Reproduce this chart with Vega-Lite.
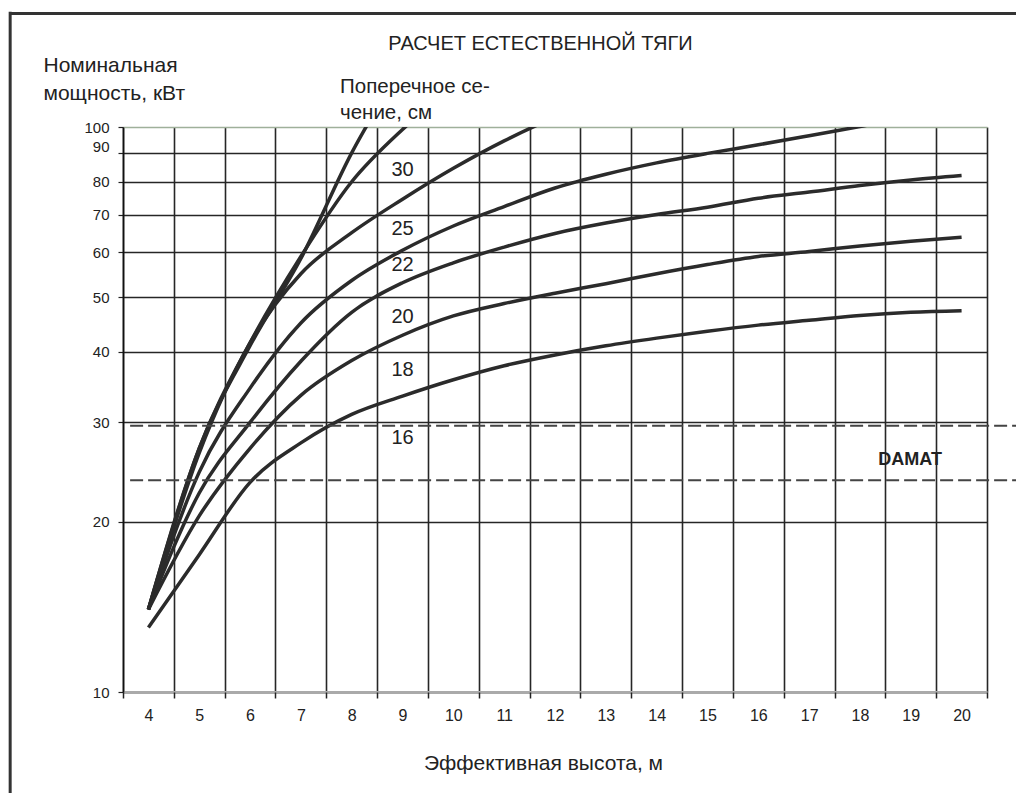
{
  "$schema": "https://vega.github.io/schema/vega-lite/v6.json",
  "width": 864,
  "height": 565,
  "autosize": {"type": "none"},
  "padding": {"left": 123, "top": 127, "right": 29, "bottom": 101},
  "background": "white",
  "config": {"view": {"stroke": null}, "font": "Liberation Sans"},
  "resolve": {"axis": {"x": "independent"}},
  "datasets": {
    "curves": [
      {"s": "k1", "h": 4, "p": 14}, {"s": "k1", "h": 5, "p": 27}, {"s": "k1", "h": 6, "p": 41}, {"s": "k1", "h": 7, "p": 58.5}, {"s": "k1", "h": 8, "p": 90}, {"s": "k1", "h": 9, "p": 128},
      {"s": "k2", "h": 4, "p": 14}, {"s": "k2", "h": 5, "p": 27}, {"s": "k2", "h": 6, "p": 41.5}, {"s": "k2", "h": 7, "p": 59}, {"s": "k2", "h": 8, "p": 80}, {"s": "k2", "h": 9, "p": 99}, {"s": "k2", "h": 10, "p": 118},
      {"s": "k3", "h": 4, "p": 14}, {"s": "k3", "h": 5, "p": 26.5}, {"s": "k3", "h": 6, "p": 41.5}, {"s": "k3", "h": 7, "p": 55}, {"s": "k3", "h": 8, "p": 65}, {"s": "k3", "h": 9, "p": 74.5}, {"s": "k3", "h": 10, "p": 84.5}, {"s": "k3", "h": 11, "p": 94.5}, {"s": "k3", "h": 12, "p": 104}, {"s": "k3", "h": 13, "p": 112},
      {"s": "k4", "h": 4, "p": 14}, {"s": "k4", "h": 5, "p": 24.5}, {"s": "k4", "h": 6, "p": 34.5}, {"s": "k4", "h": 7, "p": 45}, {"s": "k4", "h": 8, "p": 53.5}, {"s": "k4", "h": 9, "p": 60.5}, {"s": "k4", "h": 10, "p": 66.8}, {"s": "k4", "h": 11, "p": 72.3}, {"s": "k4", "h": 12, "p": 78}, {"s": "k4", "h": 13, "p": 82.5}, {"s": "k4", "h": 14, "p": 86.4}, {"s": "k4", "h": 15, "p": 89.8}, {"s": "k4", "h": 16, "p": 93}, {"s": "k4", "h": 17, "p": 96.5}, {"s": "k4", "h": 18, "p": 100.2}, {"s": "k4", "h": 19, "p": 104}, {"s": "k4", "h": 20, "p": 107},
      {"s": "k5", "h": 4, "p": 14}, {"s": "k5", "h": 5, "p": 22.5}, {"s": "k5", "h": 6, "p": 30}, {"s": "k5", "h": 7, "p": 38.5}, {"s": "k5", "h": 8, "p": 47}, {"s": "k5", "h": 9, "p": 53}, {"s": "k5", "h": 10, "p": 57.5}, {"s": "k5", "h": 11, "p": 61.3}, {"s": "k5", "h": 12, "p": 64.8}, {"s": "k5", "h": 13, "p": 67.6}, {"s": "k5", "h": 14, "p": 70}, {"s": "k5", "h": 15, "p": 72.1}, {"s": "k5", "h": 16, "p": 74.8}, {"s": "k5", "h": 17, "p": 76.7}, {"s": "k5", "h": 18, "p": 78.8}, {"s": "k5", "h": 19, "p": 80.6}, {"s": "k5", "h": 20, "p": 82.1},
      {"s": "k6", "h": 4, "p": 14}, {"s": "k6", "h": 5, "p": 20.5}, {"s": "k6", "h": 6, "p": 27}, {"s": "k6", "h": 7, "p": 33.5}, {"s": "k6", "h": 8, "p": 38.6}, {"s": "k6", "h": 9, "p": 42.8}, {"s": "k6", "h": 10, "p": 46.3}, {"s": "k6", "h": 11, "p": 48.7}, {"s": "k6", "h": 12, "p": 50.8}, {"s": "k6", "h": 13, "p": 52.8}, {"s": "k6", "h": 14, "p": 55}, {"s": "k6", "h": 15, "p": 57.1}, {"s": "k6", "h": 16, "p": 59}, {"s": "k6", "h": 17, "p": 60.2}, {"s": "k6", "h": 18, "p": 61.6}, {"s": "k6", "h": 19, "p": 62.8}, {"s": "k6", "h": 20, "p": 63.8},
      {"s": "k7", "h": 4, "p": 13}, {"s": "k7", "h": 5, "p": 17.5}, {"s": "k7", "h": 6, "p": 23.5}, {"s": "k7", "h": 7, "p": 27.6}, {"s": "k7", "h": 8, "p": 31}, {"s": "k7", "h": 9, "p": 33.4}, {"s": "k7", "h": 10, "p": 35.7}, {"s": "k7", "h": 11, "p": 37.8}, {"s": "k7", "h": 12, "p": 39.5}, {"s": "k7", "h": 13, "p": 41}, {"s": "k7", "h": 14, "p": 42.3}, {"s": "k7", "h": 15, "p": 43.5}, {"s": "k7", "h": 16, "p": 44.6}, {"s": "k7", "h": 17, "p": 45.5}, {"s": "k7", "h": 18, "p": 46.4}, {"s": "k7", "h": 19, "p": 47}, {"s": "k7", "h": 20, "p": 47.3}
    ]
  },
  "layer": [
    {
      "data": {"name": "curves"},
      "mark": {"type": "line", "clip": true, "interpolate": "monotone", "color": "#2b2b2b", "strokeWidth": 3.5},
      "encoding": {
        "x": {
          "field": "h", "type": "quantitative",
          "scale": {"type": "linear", "domain": [3.5, 20.5], "nice": false, "zero": false},
          "axis": {
            "orient": "bottom",
            "values": [4, 5, 6, 7, 8, 9, 10, 11, 12, 13, 14, 15, 16, 17, 18, 19, 20],
            "format": "d",
            "labelOverlap": false, "labelFlush": false, "labelBound": false,
            "grid": false, "ticks": false, "tickSize": 0,
            "domainColor": "#aaaaaa", "domainWidth": 3,
            "labelFont": "Liberation Sans", "labelFontSize": 16, "labelColor": "#222222", "labelPadding": 15,
            "title": "Эффективная высота, м",
            "titleFont": "Liberation Sans", "titleFontSize": 21, "titleFontWeight": "normal", "titleColor": "#222222",
            "titleX": 420, "titleY": 77, "titleAlign": "center", "titleBaseline": "alphabetic"
          }
        },
        "y": {
          "field": "p", "type": "quantitative",
          "scale": {"type": "log", "domain": [10, 100], "nice": false},
          "axis": {
            "values": [10, 20, 30, 40, 50, 60, 70, 80, 90, 100],
            "format": "d",
            "labelOverlap": false, "labelFlush": false, "labelBound": false,
            "labelOffset": {"condition": {"test": "datum.value === 90", "value": -6}, "value": 0},
            "grid": true,
            "gridColor": {"condition": {"test": "datum.value === 100", "value": "#9fb09a"}, "value": "#262626"},
            "gridOpacity": {"condition": {"test": "datum.value === 10", "value": 0}, "value": 1},
            "gridWidth": 1.6,
            "domainColor": "#111111", "domainWidth": 1.6,
            "tickColor": "#222222", "tickSize": 5, "tickWidth": 1.2,
            "labelFont": "Liberation Sans", "labelFontSize": 15, "labelColor": "#222222", "labelPadding": 9,
            "title": ["Номинальная", "мощность, кВт"],
            "titleFont": "Liberation Sans", "titleFontSize": 21, "titleFontWeight": "normal", "titleColor": "#222222",
            "titleAngle": 0, "titleX": -80, "titleY": -56, "titleAlign": "left", "titleBaseline": "alphabetic", "titleLineHeight": 28
          }
        },
        "detail": {"field": "s", "type": "nominal"}
      }
    },
    {
      "data": {"values": [
        {"h": 3.64, "h2": 21.2, "p": 29.6},
        {"h": 3.64, "h2": 21.2, "p": 23.7}
      ]},
      "mark": {"type": "rule", "clip": false, "color": "#444444", "strokeWidth": 2, "strokeDash": [13, 5]},
      "encoding": {
        "x": {
          "field": "h", "type": "quantitative",
          "scale": {"type": "linear", "domain": [3.5, 20.5], "nice": false, "zero": false},
          "axis": {
            "orient": "bottom",
            "values": [3.5, 4.5, 5.5, 6.5, 7.5, 8.5, 9.5, 10.5, 11.5, 12.5, 13.5, 14.5, 15.5, 16.5, 17.5, 18.5, 19.5, 20.5],
            "labels": false, "domain": false, "title": null,
            "ticks": true, "tickSize": 6, "tickWidth": 1.5, "tickColor": "#222222",
            "grid": true, "gridColor": "#262626", "gridWidth": 1.6
          }
        },
        "x2": {"field": "h2"},
        "y": {"field": "p", "type": "quantitative", "scale": {"type": "log", "domain": [10, 100], "nice": false}}
      }
    },
    {
      "data": {"values": [
        {"h": 1.28, "h2": 21.5, "p": 158.8, "p2": 158.8},
        {"h": 1.28, "h2": 1.28, "p": 160, "p2": 6}
      ]},
      "mark": {"type": "rule", "clip": false, "color": "#333333", "strokeWidth": 3},
      "encoding": {
        "x": {"field": "h", "type": "quantitative", "scale": {"type": "linear", "domain": [3.5, 20.5], "nice": false, "zero": false}, "axis": null},
        "x2": {"field": "h2"},
        "y": {"field": "p", "type": "quantitative", "scale": {"type": "log", "domain": [10, 100], "nice": false}},
        "y2": {"field": "p2"}
      }
    },
    {
      "data": {"values": [
        {"h": 9, "p": 83.9, "t": "30"},
        {"h": 9, "p": 66.1, "t": "25"},
        {"h": 9, "p": 56.9, "t": "22"},
        {"h": 9, "p": 46.1, "t": "20"},
        {"h": 9, "p": 37.1, "t": "18"},
        {"h": 9, "p": 28.1, "t": "16"}
      ]},
      "mark": {"type": "text", "clip": false, "font": "Liberation Sans", "fontSize": 20, "color": "#222222", "align": "center", "baseline": "middle"},
      "encoding": {
        "x": {"field": "h", "type": "quantitative", "scale": {"type": "linear", "domain": [3.5, 20.5], "nice": false, "zero": false}, "axis": null},
        "y": {"field": "p", "type": "quantitative", "scale": {"type": "log", "domain": [10, 100], "nice": false}},
        "text": {"field": "t", "type": "nominal"}
      }
    },
    {
      "data": {"values": [{"h": 18.36, "p": 25.7, "t": "DAMAT"}]},
      "mark": {"type": "text", "clip": false, "font": "Liberation Sans", "fontSize": 18, "fontWeight": "bold", "color": "#222222", "align": "left", "baseline": "middle"},
      "encoding": {
        "x": {"field": "h", "type": "quantitative", "scale": {"type": "linear", "domain": [3.5, 20.5], "nice": false, "zero": false}, "axis": null},
        "y": {"field": "p", "type": "quantitative", "scale": {"type": "log", "domain": [10, 100], "nice": false}},
        "text": {"field": "t", "type": "nominal"}
      }
    },
    {
      "data": {"values": [{"h": 11.715, "p": 136.9, "t": "РАСЧЕТ ЕСТЕСТВЕННОЙ ТЯГИ"}]},
      "mark": {"type": "text", "clip": false, "font": "Liberation Sans", "fontSize": 20, "color": "#222222", "align": "center", "baseline": "alphabetic"},
      "encoding": {
        "x": {"field": "h", "type": "quantitative", "scale": {"type": "linear", "domain": [3.5, 20.5], "nice": false, "zero": false}, "axis": null},
        "y": {"field": "p", "type": "quantitative", "scale": {"type": "log", "domain": [10, 100], "nice": false}},
        "text": {"field": "t", "type": "nominal"}
      }
    },
    {
      "data": {"values": [{"h": 7.77, "p": 114.7, "t": "Поперечное се-\nчение, см"}]},
      "mark": {"type": "text", "clip": false, "font": "Liberation Sans", "fontSize": 20.5, "color": "#222222", "align": "left", "baseline": "alphabetic", "lineBreak": "\n", "lineHeight": 26},
      "encoding": {
        "x": {"field": "h", "type": "quantitative", "scale": {"type": "linear", "domain": [3.5, 20.5], "nice": false, "zero": false}, "axis": null},
        "y": {"field": "p", "type": "quantitative", "scale": {"type": "log", "domain": [10, 100], "nice": false}},
        "text": {"field": "t", "type": "nominal"}
      }
    }
  ]
}
